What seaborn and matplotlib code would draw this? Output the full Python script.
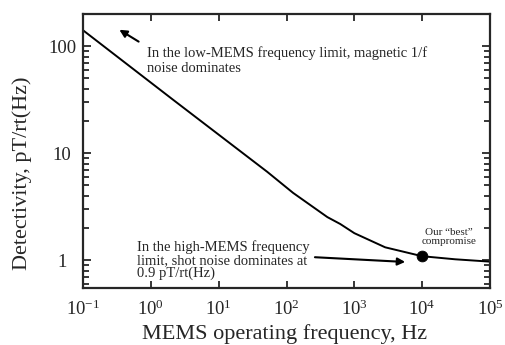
import matplotlib
matplotlib.use("Agg")
import matplotlib.pyplot as plt
import seaborn as sns

# curve (Hz, pT/rt(Hz))
freq = [0.1, 2.1, 52, 125, 400, 620, 1000, 2850, 1e4, 3.07e4, 1e5]
detect = [141, 31.8, 6.7, 4.26, 2.53, 2.18, 1.79, 1.32, 1.09, 1.02, 0.97]

best_freq = [1e4]
best_detect = [1.09]

x_ticks = [1e-1, 1e0, 1e1, 1e2, 1e3, 1e4, 1e5]
x_tick_labels = ['$10^{-1}$', '$10^{0}$', '$10^{1}$', '$10^{2}$', '$10^{3}$', '$10^{4}$', '$10^{5}$']
y_ticks = [1, 10, 100]
y_tick_labels = ['1', '10', '100']

sns.set_style("ticks")
plt.rcParams['font.family'] = ['Liberation Serif', 'DejaVu Serif']
plt.rcParams['mathtext.fontset'] = 'custom'
plt.rcParams['mathtext.rm'] = 'Liberation Serif'
plt.rcParams['mathtext.it'] = 'Liberation Serif:italic'
plt.rcParams['mathtext.default'] = 'regular'
plt.rcParams['axes.unicode_minus'] = False

fig = plt.figure(figsize=(5.05, 3.45), dpi=100)
ax = fig.add_axes([83 / 505, 1 - 288 / 345, 407 / 505, 274 / 345])

sns.lineplot(x=freq, y=detect, ax=ax, color='black', linewidth=1.4, estimator=None)
sns.scatterplot(x=best_freq, y=best_detect, ax=ax, color='black', s=60, zorder=5, edgecolor='black')

ax.set_xscale('log')
ax.set_yscale('log')
ax.set_xlim(1e-1, 1e5)
ax.set_ylim(0.55, 200)

ax.set_xticks(x_ticks)
ax.set_xticklabels(x_tick_labels)
ax.xaxis.set_minor_locator(matplotlib.ticker.NullLocator())
ax.set_yticks(y_ticks)
ax.set_yticklabels(y_tick_labels)
ax.yaxis.set_minor_locator(matplotlib.ticker.LogLocator(base=10, subs=range(2, 10)))
ax.yaxis.set_minor_formatter(matplotlib.ticker.NullFormatter())

ax.tick_params(which='both', direction='in', top=True, right=True, width=1.3)
ax.tick_params(axis='x', which='major', length=5, labelsize=13.5, pad=8)
ax.tick_params(axis='y', which='major', length=6, labelsize=13.5, pad=15)
ax.tick_params(axis='y', which='minor', length=4)
for lab in ax.get_yticklabels():
    lab.set_horizontalalignment('center')
for sp in ax.spines.values():
    sp.set_linewidth(1.6)
    sp.set_visible(True)

ax.set_xlabel('MEMS operating frequency, Hz', fontsize=16)
ax.set_ylabel('Detectivity, pT/rt(Hz)', fontsize=16)
ax.xaxis.set_label_coords(0.496, -0.13)
ax.yaxis.set_label_coords(-0.125, 0.418)

# annotations
ax.text(0.157, 0.830, 'In the low-MEMS frequency limit, magnetic 1/f\nnoise dominates',
        transform=ax.transAxes, fontsize=10.5, ha='left', va='center', linespacing=1.15)
ax.annotate('', xy=(0.317, 147), xytext=(0.716, 107),
            arrowprops=dict(arrowstyle='-|>', color='black', lw=1.5, mutation_scale=11))

ax.text(0.133, 0.102, 'In the high-MEMS frequency\nlimit, shot noise dominates at\n0.9 pT/rt(Hz)',
        transform=ax.transAxes, fontsize=10.5, ha='left', va='center', linespacing=0.95)
ax.annotate('', xy=(6170, 0.96), xytext=(239, 1.07),
            arrowprops=dict(arrowstyle='-|>', color='black', lw=1.5, mutation_scale=11))

ax.text(0.899, 0.186, 'Our \u201cbest\u201d\ncompromise', transform=ax.transAxes,
        fontsize=8, ha='center', va='center', linespacing=1.1)

fig.savefig('out.png', dpi=100)
